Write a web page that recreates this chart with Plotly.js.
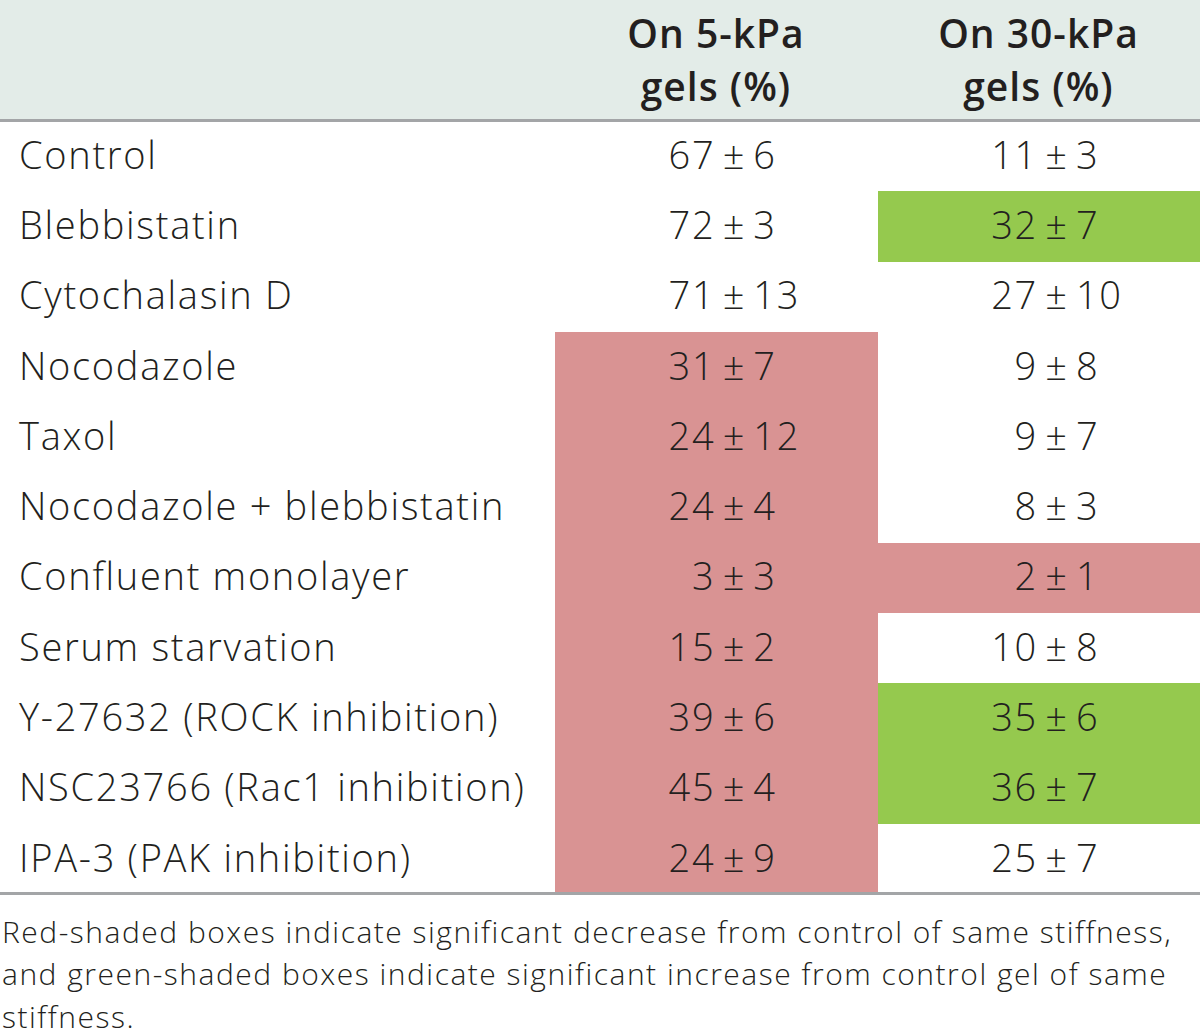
<!DOCTYPE html>
<html>
<head>
<meta charset="utf-8">
<script src="https://cdn.plot.ly/plotly-3.0.1.min.js"></script>
<style>
html,body{margin:0;padding:0;background:#fff;}
#chart{width:1200px;height:1031px;}
#chart text[style*="font-size: 38px"]{letter-spacing:1.7px;}
#chart text[style*="font-size: 39px"]{letter-spacing:1px;}
#chart text[style*="font-size: 30px"]{letter-spacing:1.5px;}
</style>
</head>
<body>
<div id="chart"></div>
<script>
// ---- data ----
var treatments = ["Control", "Blebbistatin", "Cytochalasin D", "Nocodazole", "Taxol",
  "Nocodazole + blebbistatin", "Confluent monolayer", "Serum starvation",
  "Y-27632 (ROCK inhibition)", "NSC23766 (Rac1 inhibition)", "IPA-3 (PAK inhibition)"];
var headers = ["On 5-kPa<br>gels (%)", "On 30-kPa<br>gels (%)"];
var mean5  = [67, 72, 71, 31, 24, 24, 3, 15, 39, 45, 24];
var sd5    = [6, 3, 13, 7, 12, 4, 3, 2, 6, 4, 9];
var mean30 = [11, 32, 27, 9, 9, 8, 2, 10, 35, 36, 25];
var sd30   = [3, 7, 10, 8, 7, 3, 1, 8, 6, 7, 7];
// significance vs control: -1 decrease (red), 0 none, 1 increase (green)
var sig5  = [0, 0, 0, -1, -1, -1, -1, -1, -1, -1, -1];
var sig30 = [0, 1, 0, 0, 0, 0, -1, 0, 1, 1, 0];
var footnote = [
  "Red-shaded boxes indicate significant decrease from control of same stiffness,",
  "and green-shaded boxes indicate significant increase from control gel of same",
  "stiffness."
];

// ---- geometry (pixel-like axis units) ----
var W = 1200, H = 1031;
var headerH = 121, rowH = 70.3;
var colEdges = [555, 877, 1200];
var txtColor = "#231f20";
var FONT = "'Open Sans', sans-serif";
var n = treatments.length;
var yEdges = [], yCenters = [];
for (var i = 0; i <= n; i++) yEdges.push(headerH + i * rowH);
for (var i = 0; i < n; i++) yCenters.push(headerH + (i + 0.5) * rowH + 3);

var z = [];
for (var i = 0; i < n; i++) z.push([sig5[i], sig30[i]]);

var traces = [];
traces.push({
  type: "heatmap", x: colEdges, y: yEdges, z: z, zmin: -1, zmax: 1,
  colorscale: [[0, "#d99393"], [0.33, "#d99393"], [0.33, "#ffffff"], [0.67, "#ffffff"], [0.67, "#95c94e"], [1, "#95c94e"]],
  showscale: false, hoverinfo: "skip", xgap: 0, ygap: 0
});

var bodyFont = {family: FONT, size: 38, color: txtColor, weight: 300};

// row labels
traces.push({
  type: "scatter", mode: "text", x: treatments.map(function(){return 19;}), y: yCenters,
  text: treatments, textposition: "middle right",
  textfont: bodyFont, hoverinfo: "skip"
});

function addValues(means, sds, c) {
  var left = colEdges[c], width = colEdges[c + 1] - colEdges[c];
  var pmX = left + 0.557 * width;
  var xs = function(v){ return means.map(function(){ return v; }); };
  traces.push({type: "scatter", mode: "text", x: xs(pmX - 19), y: yCenters,
    text: means.map(String), textposition: "middle left",
    textfont: bodyFont, hoverinfo: "skip"});
  traces.push({type: "scatter", mode: "text", x: xs(pmX), y: yCenters,
    text: means.map(function(){ return "\u00b1"; }), textposition: "middle center",
    textfont: bodyFont, hoverinfo: "skip"});
  traces.push({type: "scatter", mode: "text", x: xs(pmX + 19), y: yCenters,
    text: sds.map(String), textposition: "middle right",
    textfont: bodyFont, hoverinfo: "skip"});
}
addValues(mean5, sd5, 0);
addValues(mean30, sd30, 1);

// header text, one trace per line
var headLines = headers.map(function(h){ return h.split("<br>"); });
[0, 1].forEach(function(k){
  var yy = k === 0 ? 38 : 91;
  traces.push({
    type: "scatter", mode: "text",
    x: [(colEdges[0] + colEdges[1]) / 2, (colEdges[1] + colEdges[2]) / 2],
    y: [yy, yy],
    text: headLines.map(function(l){ return l[k]; }), textposition: "middle center",
    textfont: {family: FONT, size: 39, color: txtColor, weight: 600}, hoverinfo: "skip"
  });
});

var annotations = footnote.map(function(t, k){
  return {x: 0, y: 931 + k * 42.5, xref: "paper", yref: "y", text: t, showarrow: false,
    xanchor: "left", yanchor: "middle", align: "left",
    font: {family: FONT, size: 30, color: txtColor, weight: 300}};
});

var shapes = [
  {type: "rect", xref: "x", yref: "y", x0: 0, x1: W, y0: 0, y1: 120, fillcolor: "#e3ece8", line: {width: 0}, layer: "below"},
  {type: "line", xref: "x", yref: "y", x0: 0, x1: W, y0: 120.5, y1: 120.5, line: {color: "#a3a5a7", width: 3}, layer: "above"},
  {type: "line", xref: "x", yref: "y", x0: 0, x1: W, y0: 893.5, y1: 893.5, line: {color: "#a3a5a7", width: 3}, layer: "above"}
];

var layout = {
  width: W, height: H, margin: {l: 0, r: 0, t: 0, b: 0, pad: 0},
  paper_bgcolor: "#ffffff", plot_bgcolor: "#ffffff", showlegend: false,
  xaxis: {range: [0, W], visible: false, fixedrange: true},
  yaxis: {range: [H, 0], visible: false, fixedrange: true},
  shapes: shapes, annotations: annotations
};

Plotly.newPlot("chart", traces, layout, {staticPlot: true, displayModeBar: false});
</script>
</body>
</html>
